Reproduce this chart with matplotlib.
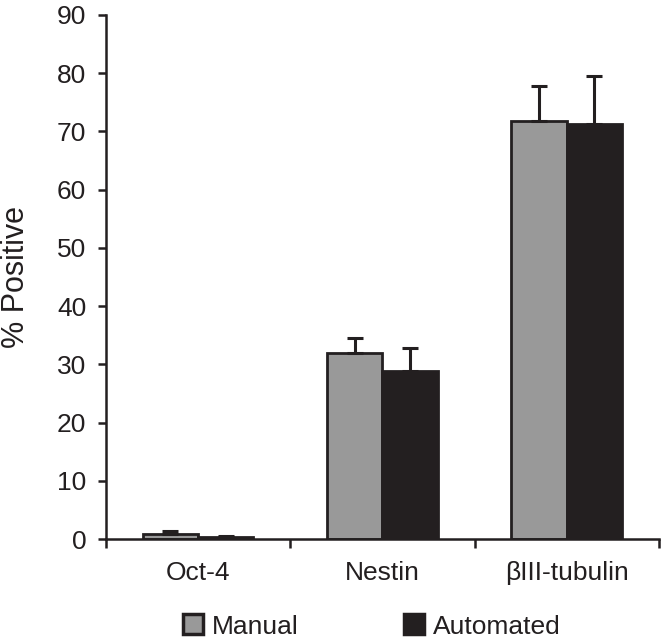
import matplotlib
matplotlib.use('Agg')
import matplotlib.pyplot as plt
import numpy as np
from matplotlib.lines import Line2D

plt.rcParams['font.family'] = ['Liberation Sans', 'DejaVu Sans']

categories = ['Oct-4', 'Nestin', 'βIII-tubulin']
manual = [0.8, 32.0, 71.8]
manual_err = [0.5, 2.5, 6.0]
automated = [0.3, 28.9, 71.3]
automated_err = [0.2, 3.9, 8.2]

fig = plt.figure(figsize=(6.61, 6.43), dpi=100)
ax = fig.add_axes([0.160, 0.1617, 0.837, 0.815])

x = np.arange(len(categories))
w = 0.3
ax.bar(x - w / 2, manual, w, color='#999999', edgecolor='#231f20', linewidth=2,
       yerr=[np.zeros(3), manual_err], capsize=5.5,
       error_kw=dict(ecolor='#231f20', elinewidth=2.2, capthick=2.2), zorder=2)
ax.bar(x + w / 2, automated, w, color='#231f20', edgecolor='#231f20', linewidth=2,
       yerr=[np.zeros(3), automated_err], capsize=5.5,
       error_kw=dict(ecolor='#231f20', elinewidth=2.2, capthick=2.2), zorder=2)

ax.set_xlim(-0.5, 2.5)
ax.set_ylim(0, 90)
ax.set_yticks(range(0, 91, 10))
ax.set_xticks(x)
ax.set_xticklabels(categories)
ax.set_xticks([-0.5, 0.5, 1.5, 2.5], minor=True)
ax.tick_params(axis='x', which='major', length=0, pad=16, labelsize=19, colors='#231f20')
ax.tick_params(axis='x', which='minor', length=6.5, width=1.8, direction='out', color='#231f20')
ax.tick_params(axis='y', length=6, width=1.8, direction='out', labelsize=19, pad=8,
               color='#231f20', labelcolor='#231f20')

for s in ['top', 'right']:
    ax.spines[s].set_visible(False)
for s in ['left', 'bottom']:
    ax.spines[s].set_linewidth(1.8)
    ax.spines[s].set_color('#231f20')

ax.set_ylabel('% Positive', fontsize=22, color='#231f20')
ax.yaxis.label.set_verticalalignment('center')
ax.yaxis.set_label_coords(-0.163, 0.5)

handles = [
    Line2D([], [], marker='s', linestyle='none', markersize=14, markerfacecolor='#999999',
           markeredgecolor='#231f20', markeredgewidth=2.5),
    Line2D([], [], marker='s', linestyle='none', markersize=14, markerfacecolor='#231f20',
           markeredgecolor='#231f20', markeredgewidth=2.5),
]
fig.legend(handles, ['Manual', 'Automated'], loc='lower center', bbox_to_anchor=(0.56, -0.03),
           ncol=2, frameon=False, fontsize=19, handletextpad=0.2, columnspacing=3.9,
           handlelength=1.0, labelcolor='#231f20')

fig.savefig('out.png', dpi=100)
